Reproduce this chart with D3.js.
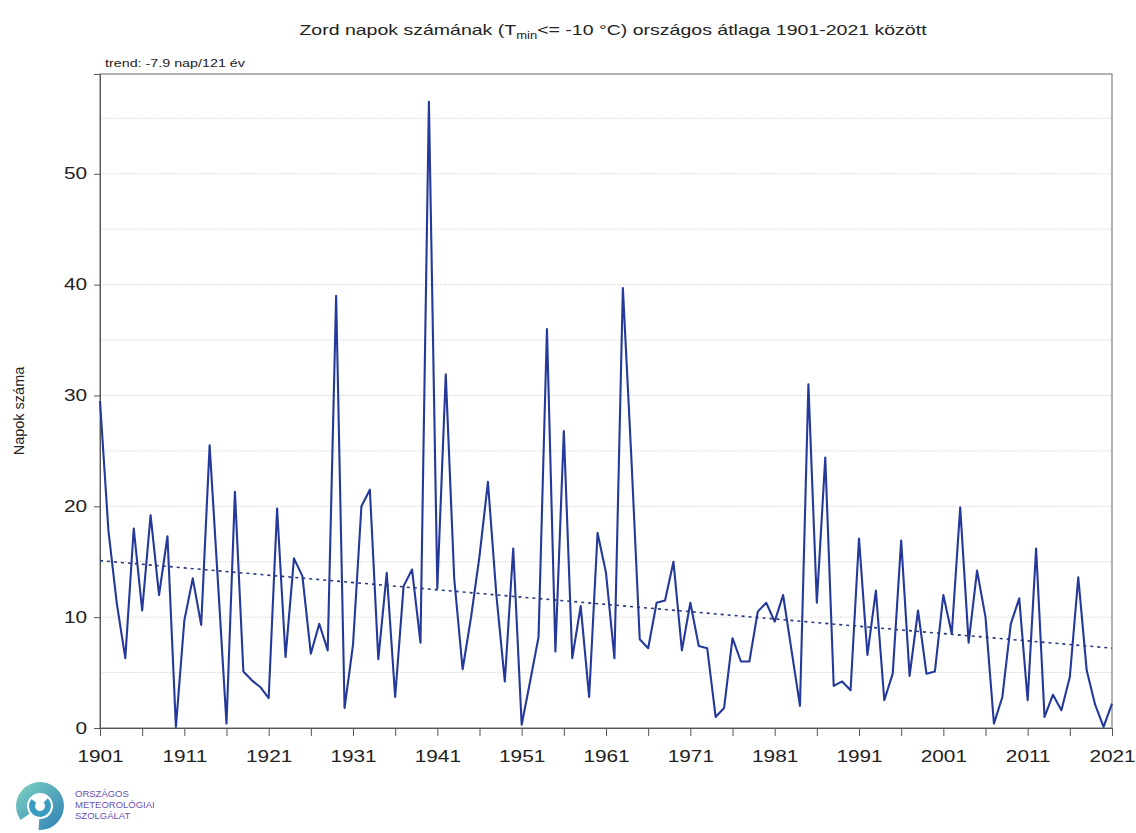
<!DOCTYPE html>
<html><head><meta charset="utf-8">
<script src="https://cdn.jsdelivr.net/npm/d3@7"></script>
<style>
body{margin:0;background:#fff;}
svg{font-family:"Liberation Sans",Arial,sans-serif;}
</style></head>
<body><svg id="c" width="1136" height="833"></svg>
<script>
const years = d3.range(1901, 2022);
const values = [
29.5,17.8,11.2,6.3,18.0,10.6,19.2,12.0,17.3,0.1,
9.7,13.5,9.3,25.5,13.0,0.4,21.3,5.1,4.3,3.7,
2.7,19.8,6.4,15.3,13.7,6.7,9.4,7.0,39.0,1.8,
7.5,20.0,21.5,6.2,14.0,2.8,12.8,14.3,7.7,56.5,
12.6,31.9,13.5,5.3,10.0,15.5,22.2,12.0,4.2,16.2,
0.3,4.2,8.2,36.0,6.9,26.8,6.3,11.0,2.8,17.6,
14.0,6.3,39.7,24.5,8.0,7.2,11.3,11.5,15.0,7.0,
11.3,7.4,7.2,1.0,1.8,8.1,6.0,6.0,10.5,11.3,
9.6,12.0,7.0,2.0,31.0,11.3,24.4,3.8,4.2,3.4,
17.1,6.6,12.4,2.5,4.9,16.9,4.7,10.6,4.9,5.1,
12.0,8.5,19.9,7.7,14.2,10.0,0.4,2.8,9.4,11.7,
2.5,16.2,1.0,3.0,1.6,4.6,13.6,5.2,2.1,0.1,2.2];
const trendYears = [1901, 2021];
const trendValues = [15.1, 7.2];
const yTicks = [0,10,20,30,40,50];
const yGrid = [5,10,15,20,25,30,35,40,45,50,55];
const xLabelYears = d3.range(1901, 2022, 10);
const xTickYears = d3.range(1901, 2022, 5);

const svg = d3.select("#c");
const L=100, R=1112, T=74, B=728;
const SX = 1.3;
const x = d3.scaleLinear().domain([1901,2021]).range([L,R]);
const y = d3.scaleLinear().domain([0,59]).range([B,T]);

function stretch(sel){
  sel.each(function(){
    const w = this.getComputedTextLength();
    if (w>0) d3.select(this).attr("textLength", w*SX).attr("lengthAdjust","spacingAndGlyphs");
  });
}

// title
const title = svg.append("text").attr("x",613).attr("y",35).attr("text-anchor","middle")
  .attr("font-size",15).attr("fill","#222");
title.append("tspan").text("Zord napok számának (T");
title.append("tspan").text("min").attr("font-size",10).attr("dy",4);
title.append("tspan").text("<= -10 °C) országos átlaga 1901-2021 között").attr("dy",-4);
stretch(title);

// gridlines
svg.append("g").selectAll("line").data(yGrid).join("line")
  .attr("x1",L).attr("x2",R).attr("y1",d=>y(d)).attr("y2",d=>y(d))
  .attr("stroke","#c8c8c8").attr("stroke-width",1).attr("stroke-dasharray","1,1.5");

// frame
svg.append("rect").attr("x",L).attr("y",T).attr("width",R-L).attr("height",B-T)
  .attr("fill","none").attr("stroke","#8a8a8a").attr("stroke-width",1.3);

// y axis
const yAxis = d3.axisLeft(y).tickValues(yTicks).tickSize(6).tickPadding(7);
const gy = svg.append("g").attr("transform",`translate(${L},0)`).call(yAxis);
gy.select(".domain").attr("stroke","#555");
gy.selectAll(".tick line").attr("stroke","#555");
gy.selectAll("text").attr("font-size",16).attr("fill","#222").attr("font-family","Liberation Sans, Arial, sans-serif").call(stretch);

// x axis
const xAxis = d3.axisBottom(x).tickValues(xTickYears).tickSize(8).tickPadding(15)
  .tickFormat(d => xLabelYears.includes(d) ? d : "");
const gx = svg.append("g").attr("transform",`translate(0,${B})`).call(xAxis);
gx.select(".domain").attr("stroke","#555");
gx.selectAll(".tick line").attr("stroke","#555");
gx.selectAll("text").attr("font-size",16).attr("fill","#222").attr("font-family","Liberation Sans, Arial, sans-serif").call(stretch);

// y label
svg.append("text").attr("transform","translate(24,411) rotate(-90)").attr("text-anchor","middle")
  .attr("font-size",14.5).attr("fill","#222").text("Napok száma");

// trend text
svg.append("text").attr("x",105).attr("y",67).attr("font-size",11).attr("fill","#222")
  .text("trend: -7.9 nap/121 év").call(stretch);

// data line
const line = d3.line().x((d,i)=>x(years[i])).y(d=>y(d));
svg.append("path").datum(values).attr("d",line).attr("fill","none")
  .attr("stroke","#25399a").attr("stroke-width",2.1).attr("stroke-linejoin","round");

// trend line
svg.append("path").datum(trendValues)
  .attr("d", d3.line().x((d,i)=>x(trendYears[i])).y(d=>y(d)))
  .attr("fill","none").attr("stroke","#26397f").attr("stroke-width",1.6).attr("stroke-dasharray","3,4");

// logo
const lg = svg.append("g").attr("transform","translate(40,806)");
const grad = svg.append("defs").append("linearGradient").attr("id","lgr").attr("x1","0").attr("y1","0").attr("x2","1").attr("y2","1");
grad.append("stop").attr("offset","0").attr("stop-color","#7fd3c0");
grad.append("stop").attr("offset","1").attr("stop-color","#2e7fb8");
const arc = d3.arc();
lg.append("path").attr("d", arc({innerRadius:13,outerRadius:24,startAngle:-2.2,endAngle:3.2})).attr("fill","url(#lgr)");
lg.append("path").attr("d", arc({innerRadius:5,outerRadius:11,startAngle:0.8,endAngle:5.4})).attr("fill","#3a9cc0");
const lt = svg.append("g").attr("font-size",9.5).attr("fill","#6a4fb0");
lt.append("text").attr("x",75).attr("y",797).text("ORSZÁGOS");
lt.append("text").attr("x",75).attr("y",808).text("METEOROLÓGIAI");
lt.append("text").attr("x",75).attr("y",819).text("SZOLGÁLAT");
</script></body></html>
